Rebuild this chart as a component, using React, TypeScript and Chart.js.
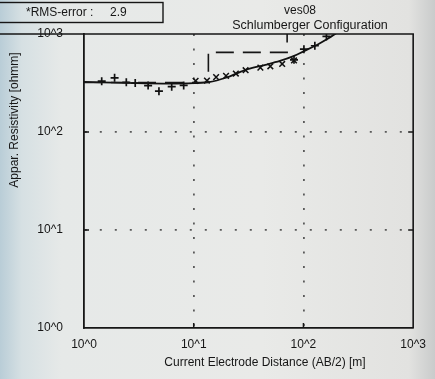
import { useEffect, useRef } from 'react';
import { Chart, registerables } from 'chart.js';
Chart.register(...registerables);

// AB/2 [m] and apparent resistivity [ohmm]
const plusAB1 = [1.45, 1.9, 2.43, 2.93, 3.84, 4.82, 6.3, 8.1];
const plusRho1 = [330, 357, 321, 316, 298, 261, 290, 299];
const crossAB = [10.4, 13.2, 16, 19.7, 24.2, 29.7, 40.5, 49.9, 64, 82];
const crossRho = [333, 335, 363, 374, 395, 427, 454, 468, 495, 537];
const plusAB2 = [82, 101, 127, 162];
const plusRho2 = [545, 700, 759, 945];
const curveAB = [1, 3, 6, 10, 13.6, 20, 31, 45, 61, 80, 101, 140, 188, 250, 400];
const curveRho = [325, 315, 312, 315, 322, 360, 438, 485, 531, 590, 668, 800, 975, 1250, 2000];
const layerDepth = [1, 13.6, 71, 1000];
const layerRho = [320, 650, 5000, 5000];
const tickValues = [1, 10, 100, 1000];
const tickLabels = ['10^0', '10^1', '10^2', '10^3'];

const FONT = '"Liberation Sans", Arial, sans-serif';
const INK = '#161616';

const pts = (xs: number[], ys: number[]) => xs.map((x, i) => ({ x, y: ys[i] }));

const decorPlugin = {
  id: 'decor',
  afterDraw(chart: any) {
    const { ctx, chartArea: a, scales } = chart;
    ctx.save();
    ctx.strokeStyle = INK;
    ctx.lineWidth = 1.6;
    // top and right frame
    ctx.beginPath();
    ctx.moveTo(0, a.top);
    ctx.lineTo(a.right, a.top);
    ctx.lineTo(a.right, a.bottom);
    ctx.stroke();
    // inward major ticks
    ctx.lineWidth = 1.5;
    ctx.beginPath();
    [10, 100].forEach((v) => {
      const py = scales.y.getPixelForValue(v);
      ctx.moveTo(a.left, py); ctx.lineTo(a.left + 5, py);
      ctx.moveTo(a.right, py); ctx.lineTo(a.right - 5, py);
      const px = scales.x.getPixelForValue(v);
      ctx.moveTo(px, a.bottom); ctx.lineTo(px, a.bottom - 5);
    });
    ctx.stroke();
    // RMS box
    ctx.lineWidth = 1.4;
    ctx.strokeRect(-2, 2.5, 165, 20);
    ctx.fillStyle = INK;
    ctx.font = `12px ${FONT}`;
    ctx.textBaseline = 'middle';
    ctx.textAlign = 'left';
    ctx.fillText('*RMS-error :', 26, 13);
    ctx.fillText('2.9', 110, 13);
    // titles
    ctx.textAlign = 'center';
    ctx.font = `12px ${FONT}`;
    ctx.fillText('ves08', 300, 11);
    ctx.font = `12.5px ${FONT}`;
    ctx.fillText('Schlumberger Configuration', 310, 26);
    // x axis title
    ctx.font = `12px ${FONT}`;
    ctx.fillText('Current Electrode Distance (AB/2) [m]', 265, 363);
    // y axis title
    ctx.translate(15, 120);
    ctx.rotate(-Math.PI / 2);
    ctx.fillText('Appar. Resistivity [ohmm]', 0, 0);
    ctx.restore();
  },
};

const gridColor = (c: any) =>
  c.tick && (c.tick.value === 10 || c.tick.value === 100) ? '#5a5a5a' : 'rgba(0,0,0,0)';

export default function App() {
  const ref = useRef<HTMLCanvasElement>(null);
  useEffect(() => {
    if (!ref.current) return;
    const setTicks = (scale: any) => {
      scale.ticks = tickValues.map((v) => ({ value: v }));
    };
    const label = (v: any) => {
      const i = tickValues.indexOf(Number(v));
      return i >= 0 ? tickLabels[i] : '';
    };
    const chart = new Chart(ref.current, {
      type: 'scatter',
      data: {
        datasets: [
          {
            label: 'layers',
            type: 'line',
            data: pts(layerDepth, layerRho),
            stepped: 'before',
            borderColor: INK,
            borderWidth: 1.6,
            borderDash: [18, 9],
            pointRadius: 0,
            fill: false,
          },
          {
            label: 'model',
            type: 'line',
            data: pts(curveAB, curveRho),
            cubicInterpolationMode: 'monotone',
            borderColor: '#111',
            borderWidth: 1.8,
            pointRadius: 0,
            fill: false,
          },
          {
            label: 'plus1',
            data: pts(plusAB1, plusRho1),
            pointStyle: 'cross',
            pointRadius: 4,
            borderColor: '#111',
            borderWidth: 1.7,
          },
          {
            label: 'cross',
            data: pts(crossAB, crossRho),
            pointStyle: 'crossRot',
            pointRadius: 4,
            borderColor: '#111',
            borderWidth: 1.5,
          },
          {
            label: 'plus2',
            data: pts(plusAB2, plusRho2),
            pointStyle: 'cross',
            pointRadius: 4,
            borderColor: '#111',
            borderWidth: 1.7,
          },
        ],
      } as any,
      options: {
        animation: false,
        responsive: false,
        maintainAspectRatio: false,
        layout: { padding: { top: 34, right: 17, left: 0, bottom: 0 } },
        plugins: { legend: { display: false }, tooltip: { enabled: false }, title: { display: false } },
        scales: {
          x: {
            type: 'logarithmic',
            min: 1,
            max: 1000,
            afterBuildTicks: setTicks,
            afterFit: (s: any) => { s.height = 51; },
            grid: { color: gridColor, lineWidth: 1.8, drawTicks: false },
            border: { display: true, color: INK, width: 1.8, dash: [2, 12.5] },
            ticks: { callback: label, color: INK, font: { family: FONT, size: 12 }, padding: 9, maxRotation: 0, autoSkip: false },
          },
          y: {
            type: 'logarithmic',
            min: 1,
            max: 1000,
            afterBuildTicks: setTicks,
            afterFit: (s: any) => { s.width = 84; },
            grid: { color: gridColor, lineWidth: 1.8, drawTicks: false },
            border: { display: true, color: INK, width: 1.8, dash: [2, 13] },
            ticks: { callback: label, color: INK, font: { family: FONT, size: 12 }, padding: 21, autoSkip: false },
          },
        },
      } as any,
      plugins: [decorPlugin],
    });
    return () => chart.destroy();
  }, []);
  return (
    <div
      style={{
        position: 'fixed',
        left: 0,
        top: 0,
        width: 435,
        height: 379,
        background:
          'linear-gradient(to right, #b9cdd7 0%, #d6e0e3 5%, #e6e9e8 14%, #e9eae8 60%, #e2e2e0 94%, #c9cbcb 100%)',
      }}
    >
      <canvas ref={ref} width={435} height={379} style={{ display: 'block' }} />
    </div>
  );
}
